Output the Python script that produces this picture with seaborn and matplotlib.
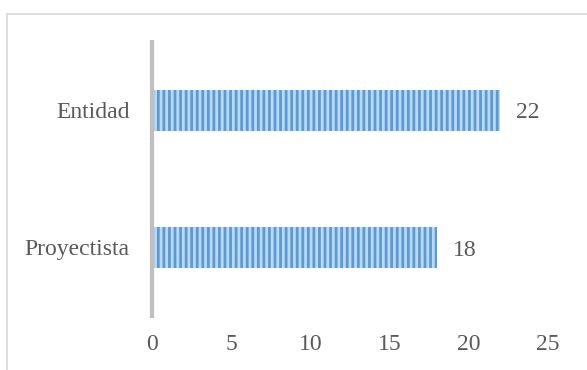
import matplotlib
matplotlib.use("Agg")
import matplotlib.pyplot as plt
import seaborn as sns
import pandas as pd
from matplotlib.lines import Line2D

categories = ["Entidad", "Proyectista"]
values = [22, 18]
xticks = [0, 5, 10, 15, 20, 25]

sns.set_style("white")
plt.rcParams['font.family'] = ['Liberation Serif', 'DejaVu Serif']
plt.rcParams['hatch.linewidth'] = 2.0

df = pd.DataFrame({"cat": categories, "val": values})

fig = plt.figure(figsize=(5.87, 3.70), dpi=100)
ax = fig.add_axes([152/587, 1-316/370, (548-152)/587, (316-42)/370])

sns.barplot(data=df, y="cat", x="val", orient="h", ax=ax, width=0.3,
            color="#bcd8f2", saturation=1, edgecolor="#5b9bd5", linewidth=0)
for p in ax.patches:
    p.set_hatch('|||')

txt = "#595959"
for i, v in enumerate(values):
    ax.text(v + 1.75, i, str(v), va="center_baseline", ha="center", fontsize=17, color=txt)

ax.set_xlim(0, 25)
ax.set_ylim(1.5, -0.5)
ax.set_xticks(xticks)
ax.set_xticklabels([str(t) for t in xticks])
ax.tick_params(axis='x', length=0, pad=13, labelsize=17, labelcolor=txt)
ax.tick_params(axis='y', length=0, pad=16, labelsize=17, labelcolor=txt)
ax.set_xlabel("")
ax.set_ylabel("")
for s in ["top", "right", "bottom"]:
    ax.spines[s].set_visible(False)
ax.spines["left"].set_color("#bfbfbf")
ax.spines["left"].set_linewidth(3)

# chart border
fig.add_artist(Line2D([6.5/587, 1], [1-13.5/370, 1-13.5/370], transform=fig.transFigure, color="#d9d9d9", lw=1.2))
fig.add_artist(Line2D([6.5/587, 6.5/587], [0, 1-13.5/370], transform=fig.transFigure, color="#d9d9d9", lw=1.2))

fig.savefig("out.png", dpi=100)
